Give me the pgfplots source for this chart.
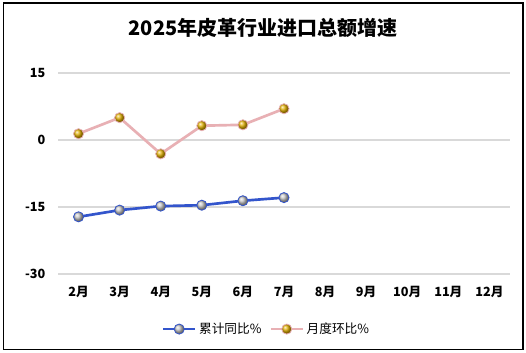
\documentclass[border=0pt]{standalone}
\usepackage{pgfplots}
\pgfplotsset{compat=1.18}
\usepackage{fontspec}
\setmainfont{Noto Sans CJK SC}
\definecolor{lblue}{RGB}{51,85,204}
\definecolor{lpink}{RGB}{232,176,180}
\definecolor{gridc}{RGB}{217,217,217}
\definecolor{gold}{RGB}{225,175,0}
\begin{document}
\begin{tikzpicture}
\useasboundingbox (0pt,0pt) rectangle (394.5pt,264.75pt);
\fill[white] (0pt,0pt) rectangle (394.5pt,264.75pt);
\draw[black, line width=1.1pt] (2.6pt,2.6pt) rectangle (392.25pt,262.5pt);
\node[font=\fontsize{15}{18}\selectfont\bfseries] at (197.25pt,243.75pt) {2025年皮革行业进口总额增速};
\begin{axis}[
  at={(43.5pt,59.25pt)}, anchor=south west,
  width=339pt, height=150.75pt, scale only axis,
  xmin=-0.5, xmax=10.5, ymin=-30, ymax=15,
  ytick={-30,-15,0,15},
  xtick={0,...,10},
  xticklabels={2月,3月,4月,5月,6月,7月,8月,9月,10月,11月,12月},
  axis line style={draw=none},
  major tick length=0pt,
  ymajorgrids, grid style={gridc, line width=0.8pt},
  tick label style={font=\fontsize{9.5}{10}\selectfont\bfseries},
  /pgf/number format/assume math mode=true,
  yticklabel style={xshift=-6pt},
  xticklabel style={yshift=-6pt},
  legend style={at={(0.462,-0.274)}, anchor=center, draw=none, fill=none, legend columns=2,
    font=\fontsize{9.5}{10}\selectfont, /tikz/every even column/.append style={column sep=4pt}},
  legend cell align=left,
  legend image code/.code={\draw[mark repeat=2,mark phase=2] plot coordinates {(0cm,0cm)(0.42cm,0cm)(0.84cm,0cm)};},
  clip=false,
]
\addplot[lblue, line width=2pt, mark=ball, mark size=3.8pt, mark options={ball color=gray!45!white, line width=0.6pt}]
  coordinates {(0,-17.2) (1,-15.7) (2,-14.8) (3,-14.6) (4,-13.6) (5,-12.9)};
\addlegendentry{累计同比\%}
\addplot[lpink, line width=2pt, mark=ball, mark size=3.8pt, mark options={ball color=gold, line width=0.6pt}]
  coordinates {(0,1.4) (1,5.0) (2,-3.1) (3,3.2) (4,3.4) (5,7.0)};
\addlegendentry{月度环比\%}
\end{axis}
\end{tikzpicture}
\end{document}
